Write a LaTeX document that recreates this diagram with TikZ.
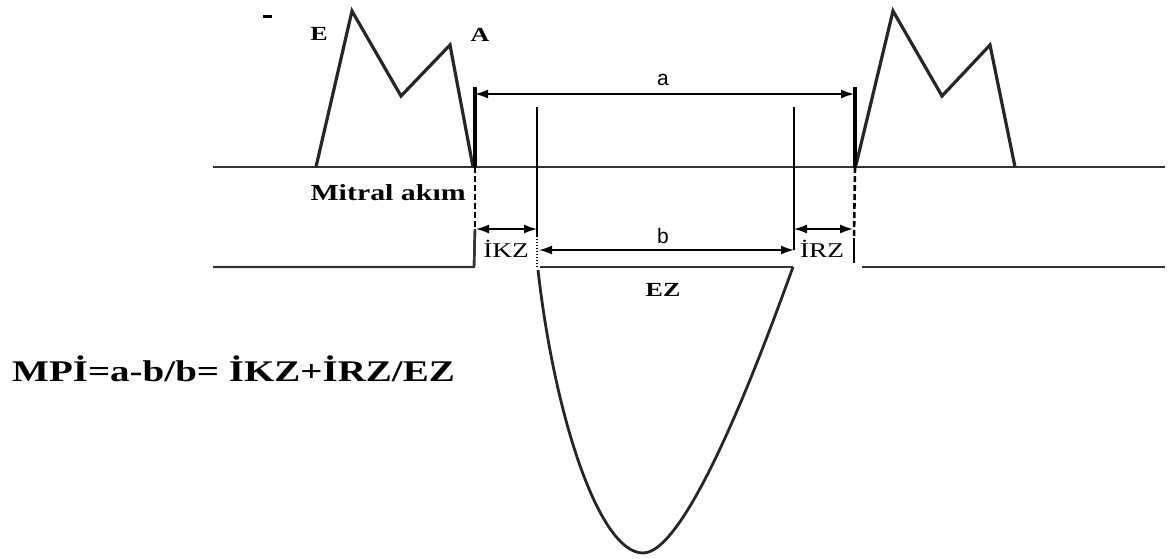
\documentclass[tikz,border=0pt]{standalone}
\usepackage{fontspec}
\setmainfont{Liberation Serif}
\newfontfamily\wserif[FakeStretch=1.3]{Liberation Serif}
\newfontfamily\wsans{Liberation Sans}
\usetikzlibrary{arrows.meta}
\begin{document}
\begin{tikzpicture}[x=1pt,y=-1pt,
  wave/.style={line width=3.2pt,line join=miter,color=black!85},
  base/.style={line width=2.4pt,color=black!80},
  thickv/.style={line width=3.2pt},
  thinv/.style={line width=2.4pt},
  dashv/.style={line width=2.6pt,dash pattern=on 6pt off 3pt},
  dotv/.style={line width=1.2pt,dash pattern=on 1.2pt off 1.8pt},
  dim/.style={line width=1.5pt,{Latex[length=13pt,width=9pt]}-{Latex[length=13pt,width=9pt]}},
  lbl/.style={inner sep=0pt,text=black},
]
\useasboundingbox (0,0) rectangle (1173,558);
% baselines
\coordinate (bl0) at (213,167); \coordinate (bl1) at (1165,167);
\draw[base] (bl0) -- (bl1);
% left mitral
\coordinate (m1) at (316,167); \coordinate (mE) at (352,11); \coordinate (md) at (401,96);
\coordinate (mA) at (450,45); \coordinate (m2) at (473,167);
\draw[wave] (m1) -- (mE) -- (md) -- (mA) -- (m2);
% right mitral
\coordinate (r1) at (856,165); \coordinate (rE) at (893,11); \coordinate (rd) at (942,96);
\coordinate (rA) at (990,45); \coordinate (r2) at (1015,167);
\draw[wave] (r1) -- (rE) -- (rd) -- (rA) -- (r2);
% small mark
\draw[line width=3pt] (263,16) -- (272,16);
% verticals
\coordinate (La) at (475,87); \coordinate (Lb) at (475,167); \coordinate (Lc) at (475,229); \coordinate (Ld) at (474,267);
\draw[thickv] (La) -- (Lb);
\draw[dashv] (Lb) -- (Lc);
\draw[thinv] (Lc) -- (Ld);
\coordinate (Ra) at (855,87); \coordinate (Rb) at (855,167); \coordinate (Rc) at (854,238); \coordinate (Rd) at (854,263);
\draw[thickv] (Ra) -- (Rb);
\draw[dashv] (Rb) -- (Rc);
\draw[thinv] (Rc) -- (Rd);
\coordinate (Ia) at (537,107); \coordinate (Ib) at (537,236); \coordinate (Ic) at (537,267);
\draw[thinv] (Ia) -- (Ib);
\draw[dotv] (Ib) -- (Ic);
\coordinate (Ja) at (794,107); \coordinate (Jb) at (794,250); \coordinate (Jc) at (794,267);
\draw[thinv] (Ja) -- (Jb);
% bottom line
\coordinate (bb0) at (213,267); \coordinate (bb1) at (540,267); \coordinate (bb2) at (793,267);
\coordinate (bb3) at (862,267); \coordinate (bb4) at (1165,267);
\draw[base] (bb0) -- (Ld) -- (Lc);
\draw[base] (bb1) -- (bb2);
\draw[base] (bb3) -- (bb4);
% parabola
\coordinate (pb) at (643,553);
\draw[line width=2.8pt,color=black!85] (538,270) .. controls (555,420) and (600,553) .. (pb)
   .. controls (690,553) and (770,330) .. (bb2);
% dimension arrows
\coordinate (aL) at (475,94); \coordinate (aR) at (854,94);
\draw[dim] (aL) -- (aR);
\coordinate (kL) at (476,229); \coordinate (kR) at (537,229);
\draw[dim] (kL) -- (kR);
\coordinate (rL) at (794,229); \coordinate (rR) at (853,229);
\draw[dim] (rL) -- (rR);
\coordinate (bL) at (539,250); \coordinate (bR) at (794,250);
\draw[dim] (bL) -- (bR);
% labels
\node[lbl,font=\wsans\fontsize{21}{21}\selectfont] (la) at (663,80) {a};
\node[lbl,font=\wsans\fontsize{21}{21}\selectfont] (lb) at (663,236) {b};
\node[lbl,font=\wserif\bfseries\fontsize{20}{20}\selectfont] (lE) at (319,34) {E};
\node[lbl,font=\wserif\bfseries\fontsize{20}{20}\selectfont] (lA) at (480,35) {A};
\node[lbl,anchor=east,font=\wserif\bfseries\fontsize{23}{23}\selectfont] (lm) at (466,193) {Mitral akım};
\node[lbl,font=\wserif\fontsize{21}{21}\selectfont] (lk) at (506,249) {İKZ};
\node[lbl,font=\wserif\fontsize{21}{21}\selectfont] (lr) at (822,249) {İRZ};
\node[lbl,font=\wserif\bfseries\fontsize{20}{20}\selectfont] (lez) at (663,290) {EZ};
\node[lbl,anchor=base west,font=\wserif\bfseries\fontsize{30}{30}\selectfont] (lf) at (12,381) {MPİ=a-b/b= İKZ+İRZ/EZ};
\end{tikzpicture}
\end{document}
